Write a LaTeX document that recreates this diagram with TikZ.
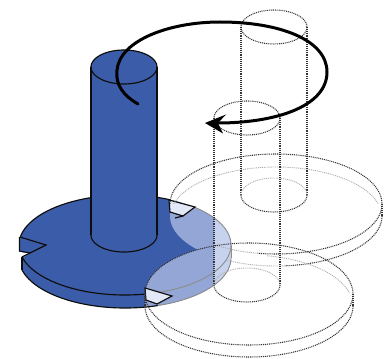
\documentclass[tikz,border=0pt]{standalone}
\definecolor{bluemain}{HTML}{3B5CA8}
\definecolor{bluemid}{HTML}{93A6D6}
\definecolor{bluelight}{HTML}{C6D2EE}
\definecolor{notchfill}{HTML}{E2E8F6}
\tikzset{
  dk/.style={draw=black!80,line width=1.05pt,dash pattern=on 1pt off 0.9pt},
  lt/.style={draw=black!32,line width=0.9pt,dash pattern=on 1pt off 0.9pt},
  solidedge/.style={draw=black!95,line width=1.15pt},
  grayedge/.style={draw=black!45,line width=0.9pt}
}
% #1 style, #2 cx, #3 cy, #4 rx, #5 ry, #6 from, #7 to
\newcommand{\earc}[7]{\draw[#1] plot[smooth,domain=#6:#7,samples=70] ({#2+#4*cos(\x)},{#3+#5*sin(\x)});}
% silhouette path: disc/cylinder with front lower by #5
\newcommand{\silh}[5]{plot[domain=0:180,samples=70] ({#1+#3*cos(\x)},{#2+#5+#4*sin(\x)}) -- plot[domain=180:360,samples=70] ({#1+#3*cos(\x)},{#2+#4*sin(\x)}) -- cycle}
\begin{document}
\begin{tikzpicture}[x=1pt,y=-1pt]
\useasboundingbox (0,0) rectangle (390,358);
% blue disc
\fill[bluemain] \silh{125}{245}{106}{50}{13};
\begin{scope}
  \clip \silh{125}{245}{106}{50}{13};
  \fill[bluemid] \silh{276}{204}{106}{50}{12};
  \fill[bluemid] \silh{249}{294}{104}{51}{12};
  \fill[bluelight] (214,190) rectangle (240,320);
\end{scope}
% left notch cut-out
\fill[white] (17,251.5) -- (30,253.5) -- (22,257.5) -- (22,272) -- (17,272) -- cycle;
% blue disc outline
\earc{solidedge}{125}{245}{106}{50}{189}{295}
\earc{solidedge}{125}{245}{106}{50}{79}{166}
\earc{solidedge}{125}{258}{106}{50}{72}{166}
\draw[solidedge] (22,257) -- (22,270);
\draw[solidedge] (20,237) -- (46,245) -- (30,253) -- (22,257);
\draw[solidedge] (19.5,237) -- (19.5,251) -- (30,253);
\earc{grayedge}{125}{245}{106}{50}{311}{360}
\earc{grayedge}{125}{245}{106}{50}{0}{79}
\earc{grayedge}{125}{258}{106}{50}{0}{72}
\draw[grayedge] (231,245) -- (231,258);
% notches
\filldraw[fill=notchfill,solidedge] (169,200) -- (195,207) -- (183,216) -- (170,212) -- cycle;
\draw[solidedge] (183,216) -- (175,218);
\filldraw[fill=notchfill,solidedge] (145,288) -- (172,296) -- (157,304) -- (146,300) -- cycle;
% blue cylinder
\fill[bluemain] \silh{124}{67}{33}{17}{168};
\draw[solidedge] (91,67) -- (91,235);
\draw[solidedge] (157,67) -- (157,235);
\earc{solidedge}{124}{67}{33}{17}{0}{360}
\earc{solidedge}{124}{235}{33}{17}{0}{180}
% back ghost disc
\earc{dk}{276}{204}{106}{50}{180}{360}
\earc{dk}{276}{204}{106}{50}{0}{100}
\earc{lt}{276}{204}{106}{50}{100}{125}
\earc{dk}{276}{216}{106}{50}{0}{85}
\earc{lt}{276}{216}{106}{50}{85}{118}
\earc{lt}{276}{217}{106}{50}{195}{345}
\draw[dk] (382,204) -- (382,216);
% back ghost cylinder
\earc{dk}{274}{27}{33}{17}{0}{360}
\draw[dk] (241,27) -- (241,195);
\draw[dk] (307,27) -- (307,195);
\earc{dk}{274}{195}{33}{17}{0}{180}
\earc{lt}{274}{195}{33}{17}{180}{360}
% front ghost disc
\earc{dk}{249}{294}{104}{51}{0}{180}
\earc{dk}{249}{294}{104}{51}{180}{360}
\earc{dk}{249}{306}{104}{51}{0}{180}
\earc{lt}{249}{306}{104}{51}{280}{345}
\draw[dk] (353,294) -- (353,306);
\draw[dk] (145,294) -- (145,306);
% front ghost cylinder
\earc{dk}{247}{118}{33}{17}{0}{360}
\draw[dk] (214,118) -- (214,285);
\draw[dk] (280,118) -- (280,285);
\earc{dk}{247}{285}{33}{17}{0}{180}
\earc{lt}{247}{285}{33}{17}{180}{360}
% rotation arrow
\draw[line width=3pt,line cap=round] (138,104) .. controls (124,96) and (115,85) .. (117,70) .. controls (120,40) and (170,22) .. (220,22) .. controls (280,22) and (327,40) .. (327,72) .. controls (327,105) and (280,122) .. (222,123) -- (214,123);
\fill[black] (205,123) -- (226,114.5) -- (218,123) -- (223,133.5) -- cycle;
\end{tikzpicture}
\end{document}
